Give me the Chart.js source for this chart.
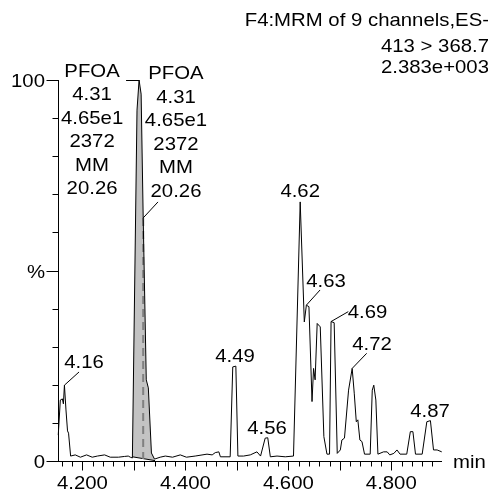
<!DOCTYPE html>
<html>
<head>
<meta charset="utf-8">
<script src="https://cdn.jsdelivr.net/npm/chart.js@4.4.1/dist/chart.umd.min.js"></script>
<style>
  html, body { margin: 0; padding: 0; background: #fff; }
  canvas { display: block; }
</style>
</head>
<body>
<canvas id="myChart" width="488" height="494"></canvas>
<script>
  // retention time (min) and relative intensity (%)
  const times = [4.153, 4.157, 4.161, 4.163, 4.165, 4.168, 4.171, 4.173, 4.177, 4.186,
    4.196, 4.208, 4.219, 4.229, 4.243, 4.254, 4.270, 4.282, 4.289, 4.293,
    4.297, 4.306, 4.310, 4.314, 4.318, 4.324, 4.328, 4.334, 4.340,
    4.351, 4.361, 4.375, 4.390, 4.402, 4.419, 4.442, 4.452, 4.458, 4.465,
    4.468, 4.487, 4.492, 4.498, 4.502, 4.513, 4.526, 4.539, 4.546, 4.555,
    4.560, 4.565, 4.578, 4.594, 4.610, 4.623, 4.631, 4.635, 4.640, 4.646,
    4.649, 4.652, 4.656, 4.662, 4.669, 4.675, 4.680, 4.683, 4.689, 4.695,
    4.701, 4.704, 4.709, 4.717, 4.724, 4.728, 4.732, 4.735, 4.739, 4.743,
    4.748, 4.759, 4.763, 4.766, 4.770, 4.774, 4.785, 4.792, 4.797, 4.805,
    4.811, 4.817, 4.830, 4.837, 4.842, 4.847, 4.860, 4.869, 4.876, 4.882,
    4.889, 4.898];
  const intensity = [6.8, 16.0, 16.3, 15.0, 19.9, 13.4, 7.9, 7.3, 1.3, 1.6,
    1.0, 1.6, 1.0, 1.3, 1.6, 1.0, 1.0, 1.2, 1.3, 1.0,
    0.8, 92.1, 100, 96.3, 63.8, 21.3, 19.2, 2.1, 0.5,
    1.0, 1.3, 1.0, 1.6, 1.0, 1.3, 1.8, 1.6, 2.2, 2.4,
    1.1, 1.1, 24.7, 24.9, 1.3, 1.3, 1.6, 2.4, 1.3, 6.0,
    6.1, 1.1, 1.3, 1.1, 1.3, 68.0, 36.5, 40.9, 40.5, 15.6,
    24.3, 21.3, 36.1, 35.2, 6.4, 1.8, 1.8, 36.6, 36.3, 2.0,
    2.9, 5.5, 6.0, 18.6, 24.3, 17.8, 10.3, 10.8, 5.5, 5.1,
    1.8, 1.8, 18.6, 19.9, 16.0, 1.8, 2.4, 2.4, 1.6, 2.0,
    2.9, 1.8, 1.8, 7.7, 7.7, 1.8, 1.8, 10.3, 10.6, 2.9,
    2.9, 2.4];

  // integrated PFOA peak: start/end of the integration and its baseline
  const integTimes = [4.297, 4.341];
  const integBase = [1.1, 0.1];
  const rtMarker = 4.318;
  const rtMarkerTop = 63.8;

  // labelled peaks
  const peakLabels = ["4.16", "4.49", "4.56", "4.62", "4.63", "4.69", "4.72", "4.87"];
  const peakTimes = [4.165, 4.495, 4.5575, 4.623, 4.635, 4.683, 4.724, 4.8725];
  const peakHeights = [19.9, 24.8, 6.1, 68.0, 40.9, 36.6, 24.3, 10.45];
  const pfoaLines = ["PFOA", "4.31", "4.65e1", "2372", "MM", "20.26"];

  const headerLines = ["F4:MRM of 9 channels,ES-", "413 > 368.7", "2.383e+003"];
  const xTickLabels = ["4.200", "4.400", "4.600", "4.800"];
  const xTickValues = [4.2, 4.4, 4.6, 4.8];
  const yTickLabels = ["0", "%", "100"];
  const yTickValues = [0, 50, 100];

  const FONT = '18.5px "Liberation Sans", Arial, sans-serif';
  const STRETCH = 1.1;

  function drawText(ctx, str, x, y, align) {
    ctx.save();
    ctx.translate(x, y);
    ctx.scale(STRETCH, 1);
    ctx.font = FONT;
    ctx.fillStyle = "#000";
    ctx.textAlign = align || "center";
    ctx.textBaseline = "alphabetic";
    ctx.fillText(str, 0, 0);
    ctx.restore();
  }

  function line(ctx, x1, y1, x2, y2) {
    ctx.beginPath();
    ctx.moveTo(x1, y1);
    ctx.lineTo(x2, y2);
    ctx.stroke();
  }

  // axes, ticks and the tick labels
  const axesPlugin = {
    id: "axes",
    afterDatasetsDraw(chart) {
      const { ctx, chartArea: a, scales: { x, y } } = chart;
      ctx.save();
      ctx.strokeStyle = "#000";
      ctx.lineWidth = 1;
      const ax = a.left + 0.5;
      const ay = a.bottom + 0.5;
      line(ctx, ax, a.top, ax, ay);
      line(ctx, a.left, ay, a.right, ay);

      for (let v = 0; v <= 100; v += 10) {
        const py = Math.round(y.getPixelForValue(v)) + 0.5;
        const long = yTickValues.includes(v);
        line(ctx, ax - (long ? 12 : 6), py, ax, py);
      }
      yTickValues.forEach((v, i) => {
        drawText(ctx, yTickLabels[i], 45, y.getPixelForValue(v) + 7.3, "right");
      });

      for (let k = 208; k <= 244; k++) {
        const t = k * 0.02;
        const px = Math.round(x.getPixelForValue(t)) + 0.5;
        const long = k % 5 === 0;
        line(ctx, px, ay, px, ay + (long ? 9 : 5));
      }
      xTickValues.forEach((t, i) => {
        drawText(ctx, xTickLabels[i], x.getPixelForValue(t), 489, "center");
      });
      drawText(ctx, "min", 453, 468, "left");

      headerLines.forEach((s, i) => {
        drawText(ctx, s, 489, [26, 51.5, 73.3][i], "right");
      });
      ctx.restore();
    },
  };

  // peak annotations: text offset and leader start, relative to the peak apex (px)
  const labelLayout = [
    { dx: 19.6, dy: -17, lx: 14.6, ly: -13.2 },
    { dx: 0.7, dy: -4.5 },
    { dx: 0.5, dy: -3.8 },
    { dx: 0, dy: -5 },
    { dx: 19.7, dy: -18, lx: 13.7, ly: -15.2 },
    { dx: 36.4, dy: -3.6, lx: 17.2, ly: -9.9 },
    { dx: 19.8, dy: -18.4, lx: 14.5, ly: -15.1 },
    { dx: 1.4, dy: -4.5 },
  ];

  const labelsPlugin = {
    id: "peakLabels",
    afterDatasetsDraw(chart) {
      const { ctx, scales: { x, y } } = chart;
      ctx.save();
      ctx.strokeStyle = "#000";
      ctx.lineWidth = 1;
      peakLabels.forEach((lab, i) => {
        const px = x.getPixelForValue(peakTimes[i]);
        const py = y.getPixelForValue(peakHeights[i]);
        const l = labelLayout[i];
        drawText(ctx, lab, px + l.dx, py + l.dy, "center");
        if (l.lx !== undefined) line(ctx, px + l.lx, py + l.ly, px, py);
      });

      // PFOA blocks: one at the apex, one at the marked retention time
      const apexX = x.getPixelForValue(4.310);
      const apexY = y.getPixelForValue(100);
      pfoaLines.forEach((s, i) => drawText(ctx, s, apexX - 47, apexY - 3 + i * 23.4, "center"));
      line(ctx, apexX - 13, apexY + 0.5, apexX, apexY + 0.5);

      const rtX = x.getPixelForValue(rtMarker);
      const rtY = y.getPixelForValue(rtMarkerTop);
      pfoaLines.forEach((s, i) => drawText(ctx, s, rtX + 32.8, rtY - 138.5 + i * 23.5, "center"));
      line(ctx, rtX + 14.8, rtY - 16, rtX, rtY);
      ctx.restore();
    },
  };

  const tracePoints = times.map((t, i) => ({ x: t, y: intensity[i] }));
  const peakPoints = tracePoints.filter((p) => p.x >= integTimes[0] - 0.0005 && p.x <= integTimes[1]);

  new Chart(document.getElementById("myChart"), {
    type: "line",
    data: {
      datasets: [
        { data: tracePoints, borderColor: "#000", borderWidth: 1, fill: false, order: 0, clip: false },
        {
          data: [{ x: rtMarker, y: rtMarkerTop }, { x: rtMarker, y: 0.5 }],
          borderColor: "#808080", borderWidth: 2, borderDash: [8, 5], fill: false, order: 1,
        },
        {
          data: integTimes.map((t, i) => ({ x: t, y: integBase[i] })),
          borderColor: "#000", borderWidth: 1, fill: false, order: 2,
        },
        {
          data: peakPoints, borderColor: "rgba(0,0,0,0)", backgroundColor: "#c3c3c3",
          fill: 2, order: 3,
        },
      ],
    },
    options: {
      responsive: false,
      animation: false,
      layout: { padding: { left: 58, right: 46, top: 80, bottom: 33 } },
      scales: {
        x: { type: "linear", min: 4.1525, max: 4.8985, display: false },
        y: { min: 0, max: 100, display: false },
      },
      elements: { point: { radius: 0 }, line: { tension: 0 } },
      plugins: { legend: { display: false }, tooltip: { enabled: false } },
    },
    plugins: [axesPlugin, labelsPlugin],
  });
</script>
</body>
</html>
